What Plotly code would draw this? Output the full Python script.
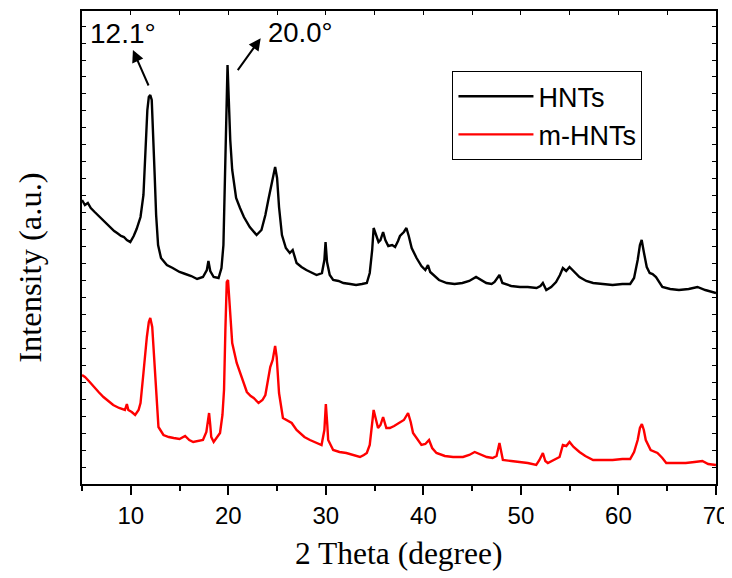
import plotly.graph_objects as go

# ---- data (2 theta in degrees, intensity in arbitrary units) ----
theta_hnts = [
    5.0, 5.3, 5.6, 5.9, 6.3, 6.7, 7.0, 7.3, 7.6, 8.0,
    8.3, 8.6, 9.0, 9.3, 9.6, 9.95, 10.3, 10.6, 11.0, 11.3,
    11.5, 11.7, 11.85, 12.0, 12.15, 12.3, 12.45, 12.6, 12.8, 13.1,
    13.7, 14.3, 15.0, 15.6, 16.2, 16.8, 17.4, 17.8, 17.96, 18.15,
    18.5, 19.0, 19.3, 19.5, 19.65, 19.8, 19.92, 20.05, 20.2, 20.4,
    20.8, 21.2, 21.6, 22.2, 22.9, 23.4, 23.8, 24.1, 24.5, 24.8,
    25.0, 25.2, 25.5, 25.9, 26.3, 26.6, 27.0, 27.5, 28.0, 28.5,
    29.05, 29.6, 29.85, 29.97, 30.12, 30.4, 30.75, 31.3, 31.8, 32.5,
    33.1, 33.7, 34.2, 34.5, 34.75, 34.9, 35.1, 35.4, 35.6, 35.87,
    36.1, 36.4, 36.8, 37.1, 37.4, 37.6, 38.0, 38.26, 38.5, 38.8,
    39.3, 39.8, 40.2, 40.47, 40.7, 41.0, 41.6, 42.4, 43.2, 44.0,
    44.7, 45.4, 45.9, 46.45, 47.0, 47.3, 47.8, 48.1, 49.0, 49.9,
    50.7, 51.6, 52.0, 52.25, 52.6, 53.1, 53.6, 54.0, 54.3, 54.64,
    54.98, 55.5, 56.0, 56.7, 57.4, 58.4, 59.4, 60.4, 61.2, 61.6,
    61.97, 62.2, 62.38, 62.6, 62.9, 63.2, 63.5, 63.85, 64.2, 64.5,
    65.3, 66.2, 67.2, 68.1, 68.9, 69.8, 70.0,
]
intensity_hnts = [
    284, 279, 281, 276, 272, 268, 266, 262, 260, 256,
    253, 251, 248, 247, 244, 242, 248, 255, 267, 289,
    329, 374, 387, 389, 384, 354, 309, 269, 239, 226,
    219, 216, 212, 210, 208, 205, 207, 214, 223, 213,
    207, 206, 216, 239, 304, 394, 419, 384, 344, 314,
    286, 276, 267, 257, 249, 254, 269, 284, 304, 317,
    306, 277, 249, 236, 231, 234, 221, 217, 214, 212,
    209, 211, 224, 242, 222, 209, 204, 203, 201, 200,
    199, 200, 201, 211, 234, 256, 251, 242, 244, 252,
    244, 238, 239, 237, 243, 248, 252, 256, 248, 236,
    226, 218, 214, 219, 212, 209, 204, 201, 200, 201,
    203, 207, 204, 201, 200, 202, 209, 201, 198, 197,
    197, 196, 198, 201, 194, 197, 202, 209, 216, 213,
    217, 212, 207, 203, 201, 200, 199, 200, 200, 206,
    224, 239, 244, 232, 217, 211, 210, 207, 201, 197,
    195, 194, 195, 197, 194, 191, 191,
]

theta_mhnts = [
    5.0, 5.3, 5.7, 6.2, 6.7, 7.2, 7.7, 8.2, 8.8, 9.4,
    9.6, 9.75, 10.1, 10.45, 10.8, 11.0, 11.3, 11.5, 11.65, 11.85,
    12.0, 12.2, 12.35, 12.5, 12.7, 12.84, 13.35, 13.9, 14.4, 15.0,
    15.57, 16.0, 16.4, 17.0, 17.4, 17.75, 17.9, 18.03, 18.15, 18.25,
    18.5, 18.8, 19.15, 19.4, 19.56, 19.7, 19.84, 19.97, 20.1, 20.18,
    20.4, 20.86, 21.4, 21.9, 22.3, 22.6, 23.1, 23.5, 23.8, 24.1,
    24.3, 24.55, 24.8, 24.96, 25.1, 25.2, 25.6, 26.0, 26.5, 27.0,
    27.3, 27.8, 28.37, 28.9, 29.56, 29.85, 30.0, 30.15, 30.24, 30.75,
    31.4, 32.1, 32.8, 33.5, 33.9, 34.2, 34.5, 34.7, 34.9, 35.1,
    35.35, 35.6, 35.87, 36.2, 36.56, 37.0, 37.6, 38.0, 38.43, 38.7,
    38.94, 39.4, 39.8, 40.2, 40.58, 40.9, 41.34, 42.2, 43.04, 44.06,
    44.7, 45.26, 45.8, 46.5, 47.1, 47.5, 47.8, 48.0, 48.15, 49.0,
    49.86, 50.7, 51.57, 51.9, 52.25, 52.5, 52.76, 53.4, 53.96, 54.3,
    54.65, 54.98, 55.4, 56.0, 56.6, 57.4, 58.4, 59.4, 60.4, 61.2,
    61.6, 61.97, 62.2, 62.4, 62.6, 62.8, 63.3, 64.0, 64.5, 64.9,
    66.0, 66.9, 67.8, 68.6, 69.2, 69.8, 70.0,
]
intensity_mhnts = [
    109, 107, 103, 97, 92, 87, 83, 79, 76, 74,
    80, 74, 72, 69, 74, 81, 111, 136, 147, 162,
    166, 157, 134, 104, 74, 57, 49, 47, 46, 45,
    48, 44, 42, 43, 44, 52, 66, 71, 59, 47,
    42, 46, 51, 69, 94, 154, 202, 204, 184, 171,
    141, 121, 107, 92, 88, 86, 81, 84, 89, 104,
    117, 124, 138, 127, 109, 91, 66, 64, 61, 54,
    51, 47, 44, 42, 39, 54, 80, 59, 44, 34,
    32, 31, 29, 27, 29, 31, 39, 54, 74, 66,
    56, 59, 67, 56, 56, 58, 62, 64, 71, 62,
    51, 44, 39, 40, 44, 36, 31, 28, 27, 27,
    29, 32, 30, 27, 26, 28, 41, 29, 24, 23,
    22, 21, 19, 24, 31, 23, 21, 24, 27, 39,
    38, 42, 37, 32, 28, 24, 24, 24, 25, 25,
    32, 44, 56, 60, 54, 44, 34, 31, 26, 21,
    21, 21, 22, 23, 20, 19, 19,
]

series_names = ["HNTs", "m-HNTs"]
series_colors = ["#000000", "#ff0000"]
peak_labels = ["12.1°", "20.0°"]

x_range = [5, 70]
y_range = [0, 473]

SANS = "Arial, 'Liberation Sans', sans-serif"
SERIF = "'Times New Roman', 'Liberation Serif', serif"

fig = go.Figure()
fig.add_trace(go.Scatter(x=theta_hnts, y=intensity_hnts, mode="lines",
                         name=series_names[0], line=dict(color=series_colors[0], width=2.4)))
fig.add_trace(go.Scatter(x=theta_mhnts, y=intensity_mhnts, mode="lines",
                         name=series_names[1], line=dict(color=series_colors[1], width=2.4)))
# invisible trace so the top (mirror) axis with inward ticks is drawn
fig.add_trace(go.Scatter(x=theta_hnts, y=intensity_hnts, xaxis="x2", mode="lines",
                         line=dict(color="rgba(0,0,0,0)"), showlegend=False, hoverinfo="skip"))

# the page body adds an 8 px margin, so the figure is 8 px smaller and margins compensate
fig.update_layout(
    width=724, height=570,
    margin=dict(l=74, r=16, t=3, b=94, autoexpand=False),
    paper_bgcolor="white", plot_bgcolor="white",
    showlegend=True,
    legend=dict(
        x=0.584, y=0.873, xanchor="left", yanchor="top",
        font=dict(family=SANS, size=27, color="black"),
        bordercolor="black", borderwidth=1.2, bgcolor="white",
        itemwidth=75, tracegroupgap=0,
    ),
    xaxis=dict(
        range=x_range, tick0=0, dtick=10, automargin=False,
        ticks="outside", ticklen=9, tickwidth=1.5, tickcolor="black",
        minor=dict(ticks="outside", dtick=5, ticklen=5, tickwidth=1.5, tickcolor="black"),
        showline=True, linecolor="black", linewidth=1.8, mirror=True,
        showgrid=False, zeroline=False,
        tickfont=dict(family=SANS, size=24, color="black"),
    ),
    xaxis2=dict(
        range=x_range, overlaying="x", side="top", anchor="y", automargin=False,
        tick0=0, dtick=5, ticks="inside", ticklen=4, tickwidth=1.2, tickcolor="black",
        showticklabels=False, showline=False, showgrid=False, zeroline=False,
    ),
    yaxis=dict(
        range=y_range, tick0=16.7, dtick=16.97, automargin=False,
        ticks="inside", ticklen=4, tickwidth=1.2, tickcolor="black",
        showticklabels=False,
        showline=True, linecolor="black", linewidth=1.8, mirror="ticks",
        showgrid=False, zeroline=False,
    ),
)

# axis titles
fig.add_annotation(text="2 Theta (degree)", xref="paper", yref="paper", x=0.5, y=-0.146,
                   xanchor="center", yanchor="middle", showarrow=False,
                   font=dict(family=SERIF, size=31.5, color="black"))
fig.add_annotation(text="Intensity (a.u.)", xref="paper", yref="paper", x=-0.082, y=0.457,
                   xanchor="center", yanchor="middle", showarrow=False, textangle=-90,
                   font=dict(family=SERIF, size=32.5, color="black"))

# peak labels and arrows
fig.add_annotation(text=peak_labels[0], x=9.23, y=451, xref="x", yref="y", showarrow=False,
                   font=dict(family=SANS, size=28, color="black"))
fig.add_annotation(text=peak_labels[1], x=27.35, y=452, xref="x", yref="y", showarrow=False,
                   font=dict(family=SANS, size=27.5, color="black"))
fig.add_annotation(text="", x=10.22, y=434, ax=11.89, ay=397, xref="x", yref="y",
                   axref="x", ayref="y", showarrow=True, arrowhead=2, arrowsize=1.2,
                   arrowwidth=2, arrowcolor="black")
fig.add_annotation(text="", x=23.32, y=445.7, ax=20.86, ay=412.3, xref="x", yref="y",
                   axref="x", ayref="y", showarrow=True, arrowhead=2, arrowsize=1.2,
                   arrowwidth=2, arrowcolor="black")

fig.write_html("out.html")
